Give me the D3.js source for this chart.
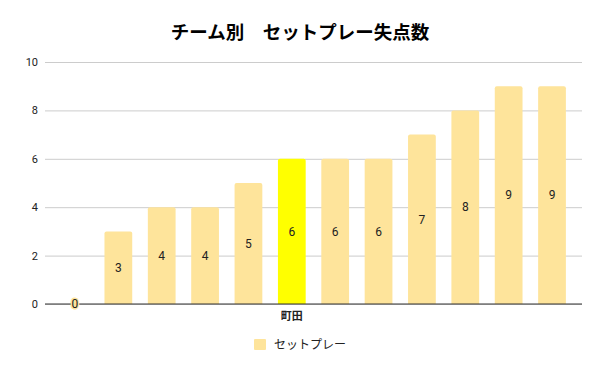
<!DOCTYPE html>
<html>
<head>
<meta charset="utf-8">
<script src="https://cdn.jsdelivr.net/npm/d3@7"></script>
<style>
  body { margin: 0; background: #fff; }
  text { font-family: "Noto Sans CJK JP", "Noto Sans", sans-serif; }
</style>
</head>
<body>
<div id="chart"></div>
<script>
(function setPieceChart() {
  const width = 600;
  const height = 371;

  // only 町田 carries a visible label on the axis
  const teams = ['', '', '', '', '', '町田', '', '', '', '', '', ''];
  const goals = [0, 3, 4, 4, 5, 6, 6, 6, 7, 8, 9, 9];
  const highlight = '町田';
  const yTicks = [0, 2, 4, 6, 8, 10];
  const seriesName = 'セットプレー';

  const barColor = '#fee49b';
  const highlightColor = '#ffff00';
  const gridColor = '#cccccc';
  const textColor = '#222222';

  const svg = d3.select('#chart').append('svg')
    .attr('width', width)
    .attr('height', height);

  const x = d3.scaleBand()
    .domain(d3.range(goals.length))
    .range([53.3, 573.7])
    .paddingInner(0.36)
    .paddingOuter(0.18);

  const y = d3.scaleLinear()
    .domain([0, 10])
    .range([304, 62]);

  // title
  svg.append('text')
    .attr('x', 300)
    .attr('y', 39)
    .attr('text-anchor', 'middle')
    .style('font-size', '18.5px')
    .style('font-weight', 'bold')
    .style('fill', '#000')
    .text('チーム別　セットプレー失点数');

  // gridlines + y labels
  const yAxis = svg.append('g')
    .attr('transform', 'translate(45,0)')
    .call(d3.axisLeft(y).tickValues(yTicks).tickSize(-537).tickPadding(7));
  yAxis.select('.domain').remove();
  yAxis.selectAll('.tick line').attr('stroke', gridColor).attr('stroke-width', 1);
  yAxis.selectAll('.tick text')
    .style('font-size', '11px')
    .style('font-family', 'Roboto, "Noto Sans", sans-serif')
    .style('fill', textColor);

  // bars with slightly rounded tops
  const barPath = (d, i) => {
    const x0 = x(i);
    const w = x.bandwidth();
    const y0 = y(d);
    const y1 = y(0);
    const r = Math.min(2, (y1 - y0) / 2);
    if (y1 - y0 <= 0) return '';
    return `M${x0},${y1}V${y0 + r}Q${x0},${y0} ${x0 + r},${y0}H${x0 + w - r}Q${x0 + w},${y0} ${x0 + w},${y0 + r}V${y1}Z`;
  };

  svg.append('g')
    .selectAll('path.bar')
    .data(goals)
    .enter()
    .append('path')
    .attr('class', 'bar')
    .attr('d', barPath)
    .style('fill', (d, i) => (teams[i] === highlight ? highlightColor : barColor));

  // baseline
  svg.append('line')
    .attr('x1', 45)
    .attr('x2', 582)
    .attr('y1', y(0))
    .attr('y2', y(0))
    .attr('stroke', '#333')
    .attr('stroke-width', 1);

  // value labels, centred inside each bar
  svg.append('g')
    .selectAll('text.value')
    .data(goals)
    .enter()
    .append('text')
    .attr('class', 'value')
    .attr('x', (d, i) => x(i) + x.bandwidth() / 2)
    .attr('y', d => (y(d) + y(0)) / 2)
    .attr('dy', '0.35em')
    .attr('text-anchor', 'middle')
    .style('font-size', '12px')
    .style('font-family', 'Roboto, "Noto Sans", sans-serif')
    .style('fill', textColor)
    .style('paint-order', 'stroke')
    .style('stroke', (d, i) => (d === 0 ? barColor : 'none'))
    .style('stroke-width', 3)
    .style('stroke-linejoin', 'round')
    .text(d => d);

  // category labels
  svg.append('g')
    .selectAll('text.cat')
    .data(teams)
    .enter()
    .append('text')
    .attr('class', 'cat')
    .attr('x', (d, i) => x(i) + x.bandwidth() / 2)
    .attr('y', 320)
    .attr('text-anchor', 'middle')
    .style('font-size', '11px')
    .style('font-weight', 'bold')
    .style('fill', textColor)
    .text(d => d);

  // legend
  const legend = svg.append('g').attr('transform', 'translate(254,339)');
  legend.append('rect')
    .attr('width', 12)
    .attr('height', 11)
    .attr('rx', 1)
    .style('fill', barColor);
  legend.append('text')
    .attr('x', 20)
    .attr('y', 6)
    .attr('dy', '0.35em')
    .style('font-size', '12px')
    .style('fill', textColor)
    .text(seriesName);
}());
</script>
</body>
</html>
